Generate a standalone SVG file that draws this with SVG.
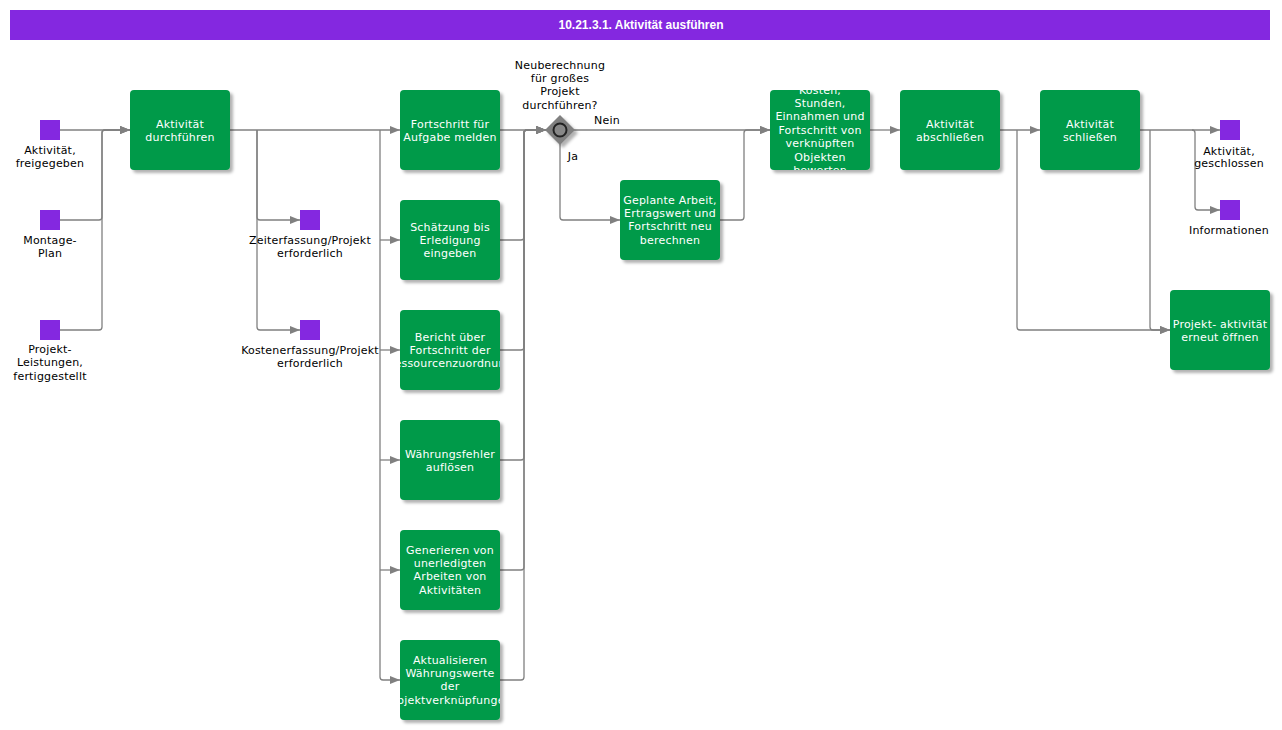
<svg xmlns="http://www.w3.org/2000/svg" width="1282" height="730" viewBox="0 0 1282 730">
<style>
.t{font-family:"DejaVu Sans",Verdana,sans-serif;font-size:11px;letter-spacing:0.2px;text-anchor:middle}
.w{fill:#ffffff}
.b{fill:#000000}
.box{fill:#009a4a}
.ev{fill:#8428e0}
.c{fill:none;stroke:#808080;stroke-width:1.3}
.a{marker-end:url(#ah)}
</style>
<defs>
<marker id="ah" viewBox="0 0 10 8" refX="10" refY="4" markerWidth="10" markerHeight="8" markerUnits="userSpaceOnUse" orient="auto">
<path d="M0,0 L10,4 L0,8 z" fill="#808080"/>
</marker>
<filter id="sh" x="-10%" y="-10%" width="130%" height="130%">
<feDropShadow dx="3" dy="3" stdDeviation="1.5" flood-color="#000" flood-opacity="0.3"/>
</filter>
<clipPath id="cp1"><rect x="400" y="310" width="100" height="80"/></clipPath>
<clipPath id="cp2"><rect x="400" y="640" width="100" height="80"/></clipPath>
<clipPath id="cp3"><rect x="770" y="90" width="100" height="80"/></clipPath>
</defs>
<rect width="1282" height="730" fill="#ffffff"/>
<g id="title">
<rect x="10" y="10" width="1260" height="30" fill="#8428e0"/>
<text x="641" y="29" font-family="'Liberation Sans',Arial,sans-serif" font-size="12" font-weight="bold" fill="#ffffff" text-anchor="middle">10.21.3.1. Aktivität ausführen</text>
</g>
<g id="connectors">
<path class="c a" d="M60,130 H130"/>
<path class="c a" d="M60,220 H99 a3,3 0 0 0 3,-3 V133 a3,3 0 0 1 3,-3 H130"/>
<path class="c a" d="M60,330 H99 a3,3 0 0 0 3,-3 V133 a3,3 0 0 1 3,-3 H130"/>
<path class="c a" d="M230,130 H400"/>
<path class="c a" d="M257,130 V217 a3,3 0 0 0 3,3 H300"/>
<path class="c a" d="M257,130 V327 a3,3 0 0 0 3,3 H300"/>
<path class="c a" d="M380,130 V677 a3,3 0 0 0 3,3 H400"/>
<path class="c a" d="M380,240 H400"/>
<path class="c a" d="M380,350 H400"/>
<path class="c a" d="M380,460 H400"/>
<path class="c a" d="M380,570 H400"/>
<path class="c a" d="M500,130 H546"/>
<path class="c a" d="M500,240 H521 a3,3 0 0 0 3,-3 V133 a3,3 0 0 1 3,-3 H546"/>
<path class="c a" d="M500,350 H521 a3,3 0 0 0 3,-3 V133 a3,3 0 0 1 3,-3 H546"/>
<path class="c a" d="M500,460 H521 a3,3 0 0 0 3,-3 V133 a3,3 0 0 1 3,-3 H546"/>
<path class="c a" d="M500,570 H521 a3,3 0 0 0 3,-3 V133 a3,3 0 0 1 3,-3 H546"/>
<path class="c a" d="M500,680 H521 a3,3 0 0 0 3,-3 V133 a3,3 0 0 1 3,-3 H546"/>
<path class="c a" d="M574,130 H770"/>
<path class="c a" d="M560,144 V217 a3,3 0 0 0 3,3 H620"/>
<path class="c a" d="M720,220 H741 a3,3 0 0 0 3,-3 V133 a3,3 0 0 1 3,-3 H770"/>
<path class="c a" d="M870,130 H900"/>
<path class="c a" d="M1000,130 H1040"/>
<path class="c a" d="M1017,130 V327 a3,3 0 0 0 3,3 H1170"/>
<path class="c a" d="M1140,130 H1220"/>
<path class="c a" d="M1192,130 a3,3 0 0 1 3,3 V207 a3,3 0 0 0 3,3 H1220"/>
<path class="c a" d="M1150,130 V327 a3,3 0 0 0 3,3 H1170"/>
</g>
<g id="ev1"><rect class="ev" x="40" y="120" width="20" height="20"/><text class="t b" x="50" y="154">Aktivität,</text><text class="t b" x="50" y="167">freigegeben</text></g>
<g id="ev2"><rect class="ev" x="40" y="210" width="20" height="20"/><text class="t b" x="50" y="244">Montage-</text><text class="t b" x="50" y="257">Plan</text></g>
<g id="ev3"><rect class="ev" x="40" y="320" width="20" height="20"/><text class="t b" x="50" y="353">Projekt-</text><text class="t b" x="50" y="366">Leistungen,</text><text class="t b" x="50" y="380">fertiggestellt</text></g>
<g id="ev4"><rect class="ev" x="300" y="210" width="20" height="20"/><text class="t b" x="310" y="244">Zeiterfassung/Projekt</text><text class="t b" x="310" y="257">erforderlich</text></g>
<g id="ev5"><rect class="ev" x="300" y="320" width="20" height="20"/><text class="t b" x="310" y="354">Kostenerfassung/Projekt</text><text class="t b" x="310" y="367">erforderlich</text></g>
<g id="ev6"><rect class="ev" x="1220" y="120" width="20" height="20"/><text class="t b" x="1229" y="155">Aktivität,</text><text class="t b" x="1229" y="167">geschlossen</text></g>
<g id="ev7"><rect class="ev" x="1220" y="200" width="20" height="20"/><text class="t b" x="1229" y="234">Informationen</text></g>
<g id="n1"><rect class="box" x="130" y="90" width="100" height="80" rx="4" filter="url(#sh)"/><text class="t w" x="180" y="128">Aktivität</text><text class="t w" x="180" y="141">durchführen</text></g>
<g id="n2"><rect class="box" x="400" y="90" width="100" height="80" rx="4" filter="url(#sh)"/><text class="t w" x="450" y="128">Fortschritt für</text><text class="t w" x="450" y="141">Aufgabe melden</text></g>
<g id="n3"><rect class="box" x="400" y="200" width="100" height="80" rx="4" filter="url(#sh)"/><text class="t w" x="450" y="231">Schätzung bis</text><text class="t w" x="450" y="244">Erledigung</text><text class="t w" x="450" y="257">eingeben</text></g>
<g id="n4"><rect class="box" x="400" y="310" width="100" height="80" rx="4" filter="url(#sh)"/><g clip-path="url(#cp1)"><text class="t w" x="450" y="341">Bericht über</text><text class="t w" x="450" y="354">Fortschritt der</text><text class="t w" x="450" y="367">Ressourcenzuordnung</text></g></g>
<g id="n5"><rect class="box" x="400" y="420" width="100" height="80" rx="4" filter="url(#sh)"/><text class="t w" x="450" y="458">Währungsfehler</text><text class="t w" x="450" y="471">auflösen</text></g>
<g id="n6"><rect class="box" x="400" y="530" width="100" height="80" rx="4" filter="url(#sh)"/><text class="t w" x="450" y="554">Generieren von</text><text class="t w" x="450" y="567">unerledigten</text><text class="t w" x="450" y="580">Arbeiten von</text><text class="t w" x="450" y="594">Aktivitäten</text></g>
<g id="n7"><rect class="box" x="400" y="640" width="100" height="80" rx="4" filter="url(#sh)"/><g clip-path="url(#cp2)"><text class="t w" x="450" y="664">Aktualisieren</text><text class="t w" x="450" y="677">Währungswerte</text><text class="t w" x="450" y="690">der</text><text class="t w" x="450" y="704">Objektverknüpfungen</text></g></g>
<g id="gw"><path d="M560,115 L575,130 L560,145 L545,130 z" fill="#808080" filter="url(#sh)"/><circle cx="560" cy="130" r="6.5" fill="#888888" stroke="#222222" stroke-width="2"/><text class="t b" x="560" y="69">Neuberechnung</text><text class="t b" x="560" y="82">für großes</text><text class="t b" x="560" y="95">Projekt</text><text class="t b" x="560" y="109">durchführen?</text><text class="t b" x="607" y="124">Nein</text><text class="t b" x="573" y="160">Ja</text></g>
<g id="n8"><rect class="box" x="620" y="180" width="100" height="80" rx="4" filter="url(#sh)"/><text class="t w" x="670" y="204">Geplante Arbeit,</text><text class="t w" x="670" y="217">Ertragswert und</text><text class="t w" x="670" y="230">Fortschritt neu</text><text class="t w" x="670" y="244">berechnen</text></g>
<g id="n9"><rect class="box" x="770" y="90" width="100" height="80" rx="4" filter="url(#sh)"/><g clip-path="url(#cp3)"><text class="t w" x="820" y="94">Kosten,</text><text class="t w" x="820" y="107">Stunden,</text><text class="t w" x="820" y="120">Einnahmen und</text><text class="t w" x="820" y="134">Fortschritt von</text><text class="t w" x="820" y="147">verknüpften</text><text class="t w" x="820" y="161">Objekten</text><text class="t w" x="820" y="174">bewerten</text></g></g>
<g id="n10"><rect class="box" x="900" y="90" width="100" height="80" rx="4" filter="url(#sh)"/><text class="t w" x="950" y="128">Aktivität</text><text class="t w" x="950" y="141">abschließen</text></g>
<g id="n11"><rect class="box" x="1040" y="90" width="100" height="80" rx="4" filter="url(#sh)"/><text class="t w" x="1090" y="128">Aktivität</text><text class="t w" x="1090" y="141">schließen</text></g>
<g id="n12"><rect class="box" x="1170" y="290" width="100" height="80" rx="4" filter="url(#sh)"/><text class="t w" x="1220" y="328">Projekt- aktivität</text><text class="t w" x="1220" y="341">erneut öffnen</text></g>
</svg>
